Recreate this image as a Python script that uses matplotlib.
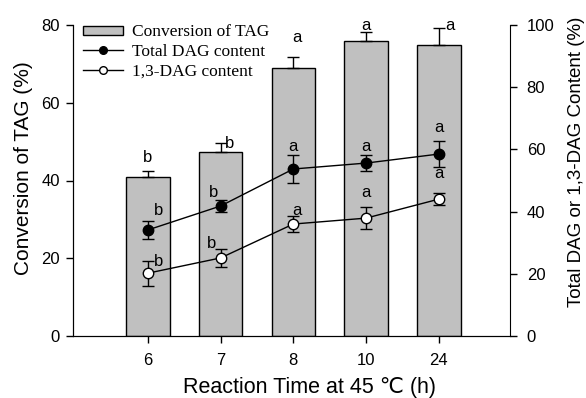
import matplotlib
matplotlib.use("Agg")
import matplotlib.pyplot as plt
from matplotlib.lines import Line2D
import numpy as np

# reaction time categories (h)
times = ["6", "7", "8", "10", "24"]

# conversion of TAG (%), left axis
conv = [40.9, 47.3, 68.9, 75.8, 74.8]
conv_err = [1.5, 2.3, 2.8, 2.3, 4.4]
conv_sig = ["b", "b", "a", "a", "a"]

# total DAG and 1,3-DAG content (%), right axis
total_dag = [34.1, 41.8, 53.7, 55.6, 58.5]
total_err = [2.9, 2.0, 4.5, 2.7, 4.2]
total_sig = ["b", "b", "a", "a", "a"]

dag13 = [20.2, 25.1, 36.0, 37.9, 44.0]
dag13_err = [4.0, 3.0, 2.6, 3.5, 1.9]
dag13_sig = ["b", "b", "a", "a", "a"]

SANS = ["Liberation Sans", "DejaVu Sans"]
SERIF = ["Liberation Serif", "DejaVu Serif"]
plt.rcParams["font.family"] = SANS

x = np.arange(len(times))

fig = plt.figure(figsize=(5.86, 3.98), dpi=100)
ax = fig.add_axes([73 / 586, 62 / 398, 437 / 586, 311 / 398])
ax2 = ax.twinx()

bars = ax.bar(x, conv, width=0.6, color="#c0c0c0", edgecolor="black", linewidth=1.0, zorder=2)
ax.errorbar(x, conv, yerr=[np.zeros(len(conv)), conv_err], fmt="none",
            ecolor="black", elinewidth=1.0, capsize=4, capthick=1.0, zorder=3)

ax2.errorbar(x, total_dag, yerr=total_err, fmt="-o", color="black", mfc="black",
             mec="black", ms=7.5, lw=1.0, elinewidth=1.0, capsize=4, capthick=1.0, zorder=4)
ax2.errorbar(x, dag13, yerr=dag13_err, fmt="-o", color="black", mfc="white",
             mec="black", ms=7.5, lw=1.0, elinewidth=1.0, capsize=4, capthick=1.0, zorder=4)

# significance letters (offsets from the mark, letter centred)
fs = 12
conv_off = [(0, 3.4), (0.12, 0.0), (0.05, 5.2), (0, 1.9), (0.15, 0.8)]
for i, (s, (dx, dy)) in enumerate(zip(conv_sig, conv_off)):
    ax.text(x[i] + dx, conv[i] + conv_err[i] + dy, s, ha="center", va="center", fontsize=fs)

tot_off = [(0.14, 6.4), (-0.1, 4.5), (0, 7.1), (0, 5.2), (0, 8.4)]
for i, (s, (dx, dy)) in enumerate(zip(total_sig, tot_off)):
    ax2.text(x[i] + dx, total_dag[i] + dy, s, ha="center", va="center", fontsize=fs)

d13_off = [(0.15, 3.6), (-0.12, 4.8), (0.05, 4.5), (0, 8.1), (0, 8.1)]
for i, (s, (dx, dy)) in enumerate(zip(dag13_sig, d13_off)):
    ax2.text(x[i] + dx, dag13[i] + dy, s, ha="center", va="center", fontsize=fs)

ax.set_xlim(-1.03, 4.98)
ax.set_ylim(0, 80)
ax2.set_ylim(0, 100)
ax.set_xticks(x)
ax.set_xticklabels(times)
ax.set_yticks([0, 20, 40, 60, 80])
ax2.set_yticks([0, 20, 40, 60, 80, 100])

for a in (ax, ax2):
    a.spines["top"].set_visible(False)
    a.tick_params(labelsize=12, length=5, width=1.0, direction="out")
ax.tick_params(axis="x", pad=7)
ax.tick_params(axis="y", pad=4.5)
ax2.tick_params(axis="y", pad=7)
ax.spines["right"].set_visible(False)

ax.set_xlabel("Reaction Time at 45 \u2103 (h)", fontsize=15.5)
ax.xaxis.set_label_coords(0.542, -0.133)
ax.set_ylabel("Conversion of TAG (%)", fontsize=15)
ax.yaxis.set_label_coords(-0.092, 0.54)
ax2.set_ylabel("Total DAG or 1,3-DAG Content (%)", fontsize=13.5)
ax2.yaxis.set_label_coords(1.133, 0.56)

handles = [
    bars,
    Line2D([], [], color="black", lw=1.0, marker="o", ms=5.5, mfc="black", mec="black"),
    Line2D([], [], color="black", lw=1.0, marker="o", ms=5.5, mfc="white", mec="black"),
]
labels = ["Conversion of TAG", "Total DAG content", "1,3-DAG content"]
ax.legend(handles, labels, loc="upper left", bbox_to_anchor=(0.023, 1.002), frameon=False,
          prop={"family": SERIF, "size": 12.5}, handlelength=2.3, handleheight=0.45,
          labelspacing=0.2, borderaxespad=0, borderpad=0, handletextpad=0.5)

fig.savefig("out.png", dpi=100, facecolor="white")
